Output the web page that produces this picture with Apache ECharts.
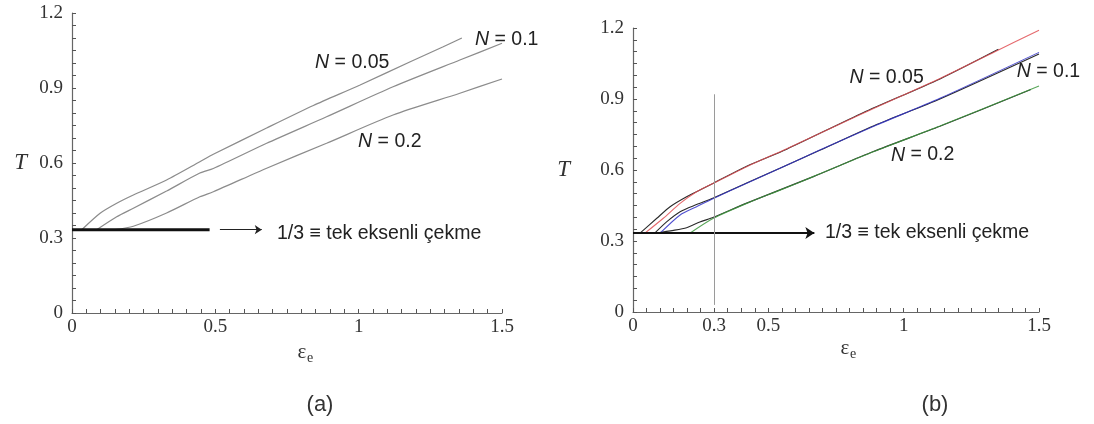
<!DOCTYPE html>
<html>
<head>
<meta charset="utf-8">
<script src="https://cdn.jsdelivr.net/npm/echarts@6/dist/echarts.min.js"></script>
<style>
  html, body { margin: 0; padding: 0; background: #fff; }
  #chart { width: 1094px; height: 424px; }
</style>
</head>
<body>
<div id="chart"></div>
<script>
// ---- Panel (a): triaxiality T versus equivalent strain, three hardening exponents ----
const aX_N005 = [0.034, 0.098, 0.156, 0.214, 0.33, 0.446, 0.493, 0.679, 0.842, 1.005, 1.18, 1.295, 1.36];
const aT_N005 = [0.333, 0.399, 0.439, 0.472, 0.532, 0.605, 0.635, 0.74, 0.83, 0.912, 1.005, 1.065, 1.10];
const aX_N01  = [0.086, 0.156, 0.214, 0.33, 0.446, 0.493, 0.679, 0.888, 1.12, 1.353, 1.5];
const aT_N01  = [0.333, 0.385, 0.419, 0.488, 0.56, 0.578, 0.679, 0.785, 0.905, 1.012, 1.079];
const aX_N02  = [0.15, 0.214, 0.33, 0.446, 0.493, 0.679, 0.888, 1.12, 1.353, 1.5];
const aT_N02  = [0.333, 0.347, 0.4, 0.465, 0.485, 0.579, 0.679, 0.792, 0.879, 0.936];

// ---- Panel (b): simulation (black) with fitted curves (coloured) ----
const bX_N005fit = [0.044, 0.112, 0.174, 0.235, 0.297, 0.42, 0.568, 0.85, 1.134, 1.337, 1.5];
const bT_N005fit = [0.333, 0.396, 0.459, 0.508, 0.544, 0.614, 0.69, 0.84, 0.987, 1.1, 1.19];
const bX_N005sim = [0.026, 0.088, 0.137, 0.198, 0.26, 0.297, 0.42, 0.568, 0.85, 1.134, 1.35];
const bT_N005sim = [0.333, 0.396, 0.445, 0.487, 0.523, 0.544, 0.616, 0.688, 0.842, 0.985, 1.11];
const bX_N01fit  = [0.1, 0.174, 0.235, 0.297, 0.42, 0.543, 0.69, 0.9, 1.134, 1.5];
const bT_N01fit  = [0.333, 0.41, 0.445, 0.48, 0.544, 0.607, 0.684, 0.79, 0.903, 1.097];
const bX_N01sim  = [0.08, 0.124, 0.174, 0.235, 0.297, 0.42, 0.69, 0.9, 1.134, 1.5];
const bT_N01sim  = [0.333, 0.381, 0.424, 0.454, 0.482, 0.545, 0.683, 0.792, 0.9, 1.09];
const bX_N02fit  = [0.21, 0.297, 0.42, 0.543, 0.666, 0.888, 1.134, 1.5];
const bT_N02fit  = [0.333, 0.396, 0.459, 0.515, 0.572, 0.677, 0.786, 0.955];
const bX_N02sim  = [0.08, 0.15, 0.198, 0.247, 0.297, 0.42, 0.666, 0.888, 1.134, 1.47];
const bT_N02sim  = [0.333, 0.345, 0.356, 0.38, 0.4, 0.46, 0.572, 0.678, 0.785, 0.94];

// uniaxial tension level and reference marks
const uniaxialT = 1 / 3;
const aRefSpan = [0, 0.48];        // thick uniaxial segment in (a)
const aArrowSpan = [0.516, 0.662]; // arrow pointing to the note in (a)
const bArrowSpan = [0, 0.67];      // uniaxial arrow in (b)
const bMarkerX = 0.3;              // vertical marker in (b)
const bMarkerSpan = [0.03, 0.92];

// labelled tick values; the remaining 0.05 steps carry only a tick mark
const xLabelsA = [0, 0.5, 1, 1.5];
const xLabelsB = [0, 0.3, 0.5, 1, 1.5];
const yLabels = [0, 0.3, 0.6, 0.9, 1.2];

const labelNames = ['N = 0.05', 'N = 0.1', 'N = 0.2'];
const noteText = '1/3 \u2261 tek eksenli \u00e7ekme';

const pairs = (xs, ys) => xs.map((x, i) => [x, ys[i]]);
const fmt = v => String(+(+v).toFixed(2));
const onlyAt = list => v => (list.some(t => Math.abs(t - v) < 1e-6) ? fmt(v) : '');

const serif = '"Liberation Serif", "Times New Roman", serif';
const sans = '"Liberation Sans", Arial, sans-serif';
const AXIS = '#666';

const tickStyle = { show: true, inside: true, length: 4, interval: 0, lineStyle: { color: '#555', width: 1 } };

function xAxisCfg(gridIndex, labels) {
  return {
    type: 'value', gridIndex, min: 0, max: 1.5, interval: 0.05,
    axisLine: { show: true, onZero: false, lineStyle: { color: AXIS, width: 1.2 } },
    axisTick: tickStyle,
    splitLine: { show: false },
    axisLabel: {
      show: true, interval: 0, formatter: onlyAt(labels), hideOverlap: false,
      fontFamily: serif, fontSize: 19, color: '#333', margin: 5
    }
  };
}
function yAxisCfg(gridIndex, gap) {
  return {
    type: 'value', gridIndex, min: 0, max: 1.2, interval: 0.05,
    name: 'T', nameLocation: 'middle', nameRotate: 0, nameGap: gap,
    nameTextStyle: { fontFamily: serif, fontStyle: 'italic', fontSize: 23, color: '#333' },
    axisLine: { show: true, onZero: false, lineStyle: { color: AXIS, width: 1.2 } },
    axisTick: tickStyle,
    splitLine: { show: false },
    axisLabel: {
      show: true, interval: 0, formatter: onlyAt(yLabels), hideOverlap: false,
      fontFamily: serif, fontSize: 19, color: '#333', margin: 9
    }
  };
}
function curve(idx, xs, ys, color, width, z) {
  return {
    type: 'line', xAxisIndex: idx, yAxisIndex: idx, data: pairs(xs, ys),
    showSymbol: false, smooth: 0.25, silent: true, z: z || 2,
    lineStyle: { color, width }
  };
}
function arrowLine(x0, x1, y, width, size, color) {
  return [
    { coord: [x0, y], symbol: 'none', lineStyle: { color, width, type: 'solid' } },
    { coord: [x1, y], symbol: 'arrow', symbolSize: size }
  ];
}

const chart = echarts.init(document.getElementById('chart'));
chart.setOption({
  animation: false,
  backgroundColor: '#fff',
  grid: [
    { left: 72, top: 13, width: 430, height: 300 },
    { left: 633, top: 28, width: 406, height: 284 }
  ],
  xAxis: [xAxisCfg(0, xLabelsA), xAxisCfg(1, xLabelsB)],
  yAxis: [yAxisCfg(0, 45), yAxisCfg(1, 63)],
  series: [
    // (a)
    curve(0, aX_N005, aT_N005, '#8c8c8c', 1.3),
    curve(0, aX_N01, aT_N01, '#8c8c8c', 1.3),
    curve(0, aX_N02, aT_N02, '#8c8c8c', 1.3),
    {
      type: 'line', xAxisIndex: 0, yAxisIndex: 0, silent: true, z: 3,
      data: aRefSpan.map(x => [x, uniaxialT]), showSymbol: false,
      lineStyle: { color: '#111', width: 3 },
      markLine: {
        silent: true, label: { show: false }, animation: false,
        data: [arrowLine(aArrowSpan[0], aArrowSpan[1], uniaxialT, 1, 7, '#222')]
      }
    },
    // (b) simulations underneath, fits on top
    curve(1, bX_N005sim, bT_N005sim, '#2a2a2a', 1.1, 2),
    curve(1, bX_N01sim, bT_N01sim, '#2a2a2a', 1.1, 2),
    curve(1, bX_N02sim, bT_N02sim, '#2a2a2a', 1.1, 2),
    curve(1, bX_N005fit, bT_N005fit, 'rgba(225,80,85,0.85)', 1.1, 3),
    curve(1, bX_N01fit, bT_N01fit, 'rgba(50,50,200,0.85)', 1.1, 3),
    curve(1, bX_N02fit, bT_N02fit, 'rgba(60,150,60,0.85)', 1.1, 3),
    {
      type: 'line', xAxisIndex: 1, yAxisIndex: 1, silent: true, z: 4,
      data: [], showSymbol: false,
      markLine: {
        silent: true, label: { show: false }, animation: false,
        data: [
          arrowLine(bArrowSpan[0], bArrowSpan[1], uniaxialT, 2, 9, '#111'),
          [
            { coord: [bMarkerX, bMarkerSpan[0]], symbol: 'none', lineStyle: { color: '#9a9a9a', width: 1, type: 'solid' } },
            { coord: [bMarkerX, bMarkerSpan[1]], symbol: 'none' }
          ]
        ]
      }
    }
  ]
});

// text annotations anchored in data space
const at = (g, x, y) => chart.convertToPixel({ gridIndex: g }, [x, y]);
const NOTE_SIZE = 19.5;
function note(g, x, y, text) {
  const p = at(g, x, y);
  return {
    type: 'text', x: p[0], y: p[1], z: 10, silent: true,
    style: {
      text, fill: '#222', font: `${NOTE_SIZE}px ${sans}`,
      textAlign: 'left', textVerticalAlign: 'middle',
      rich: { i: { fontStyle: 'italic', fontSize: NOTE_SIZE, fontFamily: sans, fill: '#222' } }
    }
  };
}
const nLabel = s => s.replace(/^N/, '{i|N}');
function plain(x, y, text, font) {
  return { type: 'text', x, y, silent: true, style: { text, font, fill: '#333', textAlign: 'center', textVerticalAlign: 'middle' } };
}

chart.setOption({
  graphic: [
    note(0, 0.848, 1.0, nLabel(labelNames[0])),
    note(0, 1.406, 1.092, nLabel(labelNames[1])),
    note(0, 0.998, 0.684, nLabel(labelNames[2])),
    note(0, 0.715, 0.316, noteText),
    note(1, 0.80, 0.989, nLabel(labelNames[0])),
    note(1, 1.418, 1.014, nLabel(labelNames[1])),
    note(1, 0.953, 0.663, nLabel(labelNames[2])),
    note(1, 0.709, 0.334, noteText),
    // axis titles: epsilon with subscript e
    plain(302, 352, '\u03b5', `21px ${serif}`),
    plain(310, 358, 'e', `14px ${serif}`),
    plain(845, 348, '\u03b5', `21px ${serif}`),
    plain(853, 354, 'e', `14px ${serif}`),
    // panel captions
    plain(320, 405, '(a)', `22px ${sans}`),
    plain(935, 405, '(b)', `22px ${sans}`)
  ]
});
</script>
</body>
</html>
